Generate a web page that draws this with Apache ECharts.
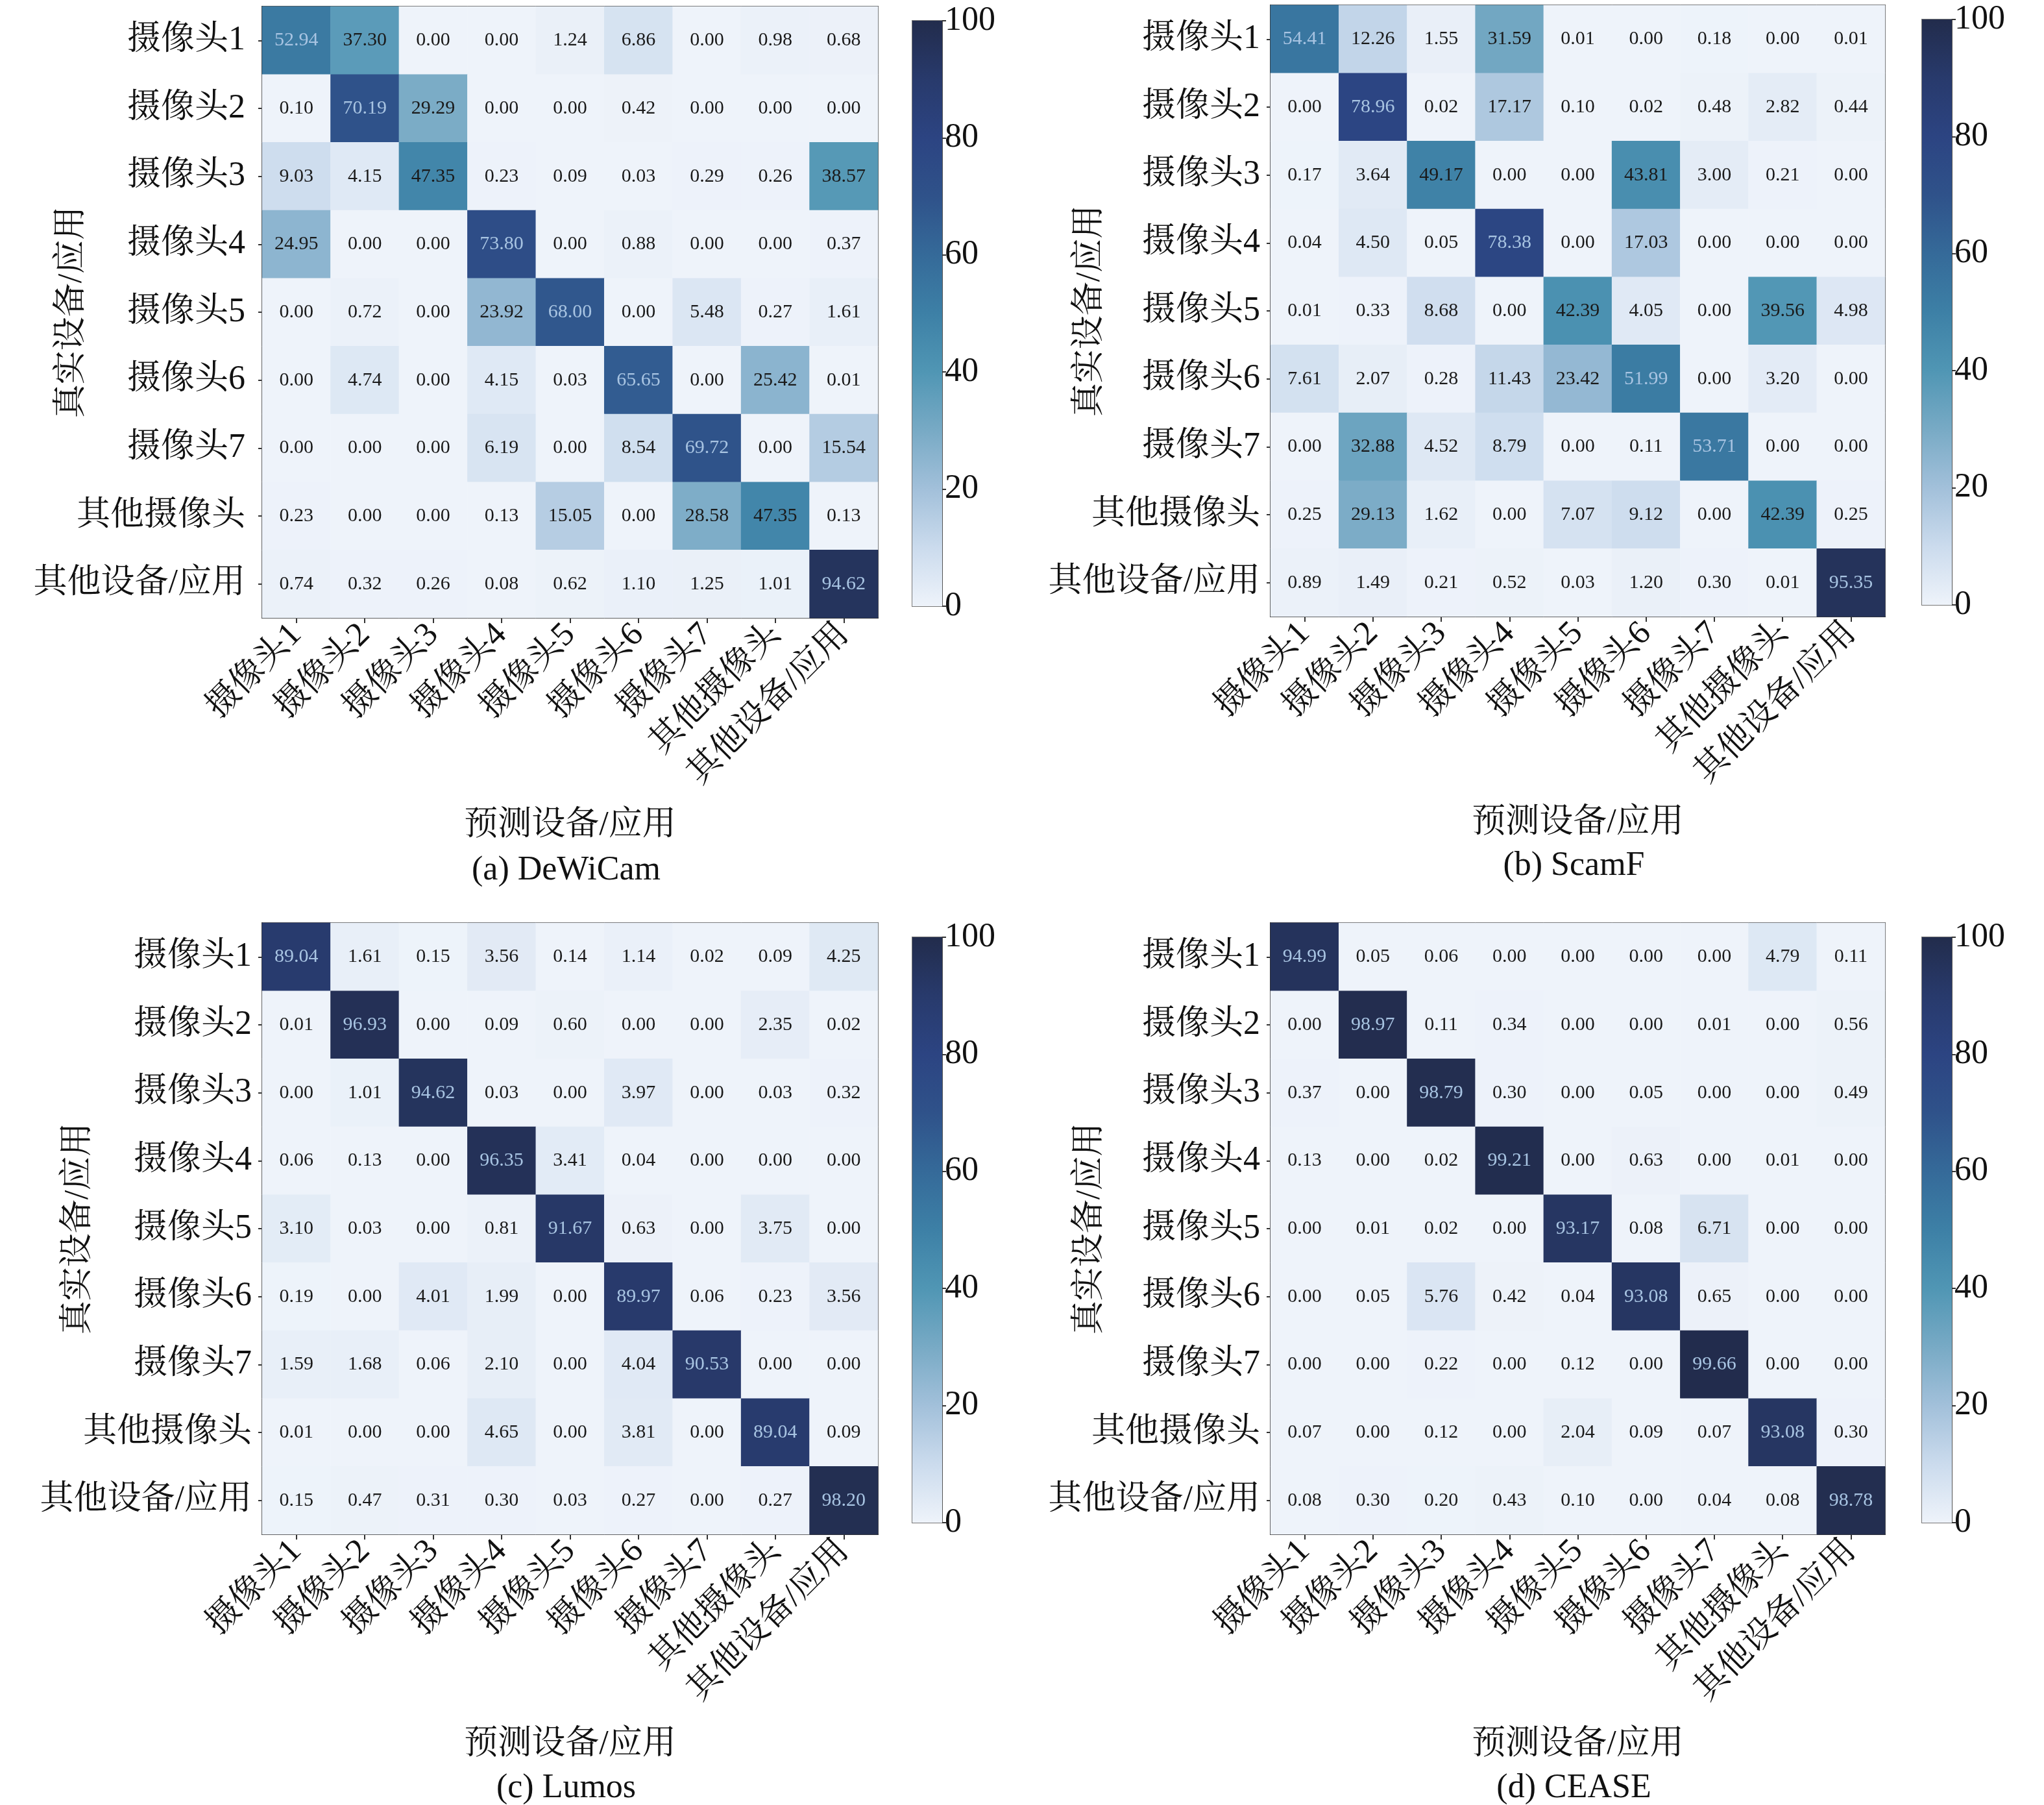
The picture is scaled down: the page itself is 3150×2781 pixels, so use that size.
<!DOCTYPE html>
<html lang="zh">
<head>
    <meta charset="UTF-8">
    <title>混淆矩阵</title>
    <script src="https://cdn.jsdelivr.net/npm/echarts@6.0.0/dist/echarts.min.js"></script>
    <style>
        html, body { margin: 0; padding: 0; background: #fff; }
        #main { width: 3150px; height: 2781px; }
    </style>
</head>
<body>
    <div id="main"></div>
    <script>
        // 类别
        const categories = ['摄像头1', '摄像头2', '摄像头3', '摄像头4', '摄像头5', '摄像头6', '摄像头7', '其他摄像头', '其他设备/应用'];
        const colorbarTicks = [0, 20, 40, 60, 80, 100];

        // (a) DeWiCam
        const matDeWiCam = [
            [52.94, 37.30, 0.00, 0.00, 1.24, 6.86, 0.00, 0.98, 0.68],
            [0.10, 70.19, 29.29, 0.00, 0.00, 0.42, 0.00, 0.00, 0.00],
            [9.03, 4.15, 47.35, 0.23, 0.09, 0.03, 0.29, 0.26, 38.57],
            [24.95, 0.00, 0.00, 73.80, 0.00, 0.88, 0.00, 0.00, 0.37],
            [0.00, 0.72, 0.00, 23.92, 68.00, 0.00, 5.48, 0.27, 1.61],
            [0.00, 4.74, 0.00, 4.15, 0.03, 65.65, 0.00, 25.42, 0.01],
            [0.00, 0.00, 0.00, 6.19, 0.00, 8.54, 69.72, 0.00, 15.54],
            [0.23, 0.00, 0.00, 0.13, 15.05, 0.00, 28.58, 47.35, 0.13],
            [0.74, 0.32, 0.26, 0.08, 0.62, 1.10, 1.25, 1.01, 94.62]
        ];
        // (b) ScamF
        const matScamF = [
            [54.41, 12.26, 1.55, 31.59, 0.01, 0.00, 0.18, 0.00, 0.01],
            [0.00, 78.96, 0.02, 17.17, 0.10, 0.02, 0.48, 2.82, 0.44],
            [0.17, 3.64, 49.17, 0.00, 0.00, 43.81, 3.00, 0.21, 0.00],
            [0.04, 4.50, 0.05, 78.38, 0.00, 17.03, 0.00, 0.00, 0.00],
            [0.01, 0.33, 8.68, 0.00, 42.39, 4.05, 0.00, 39.56, 4.98],
            [7.61, 2.07, 0.28, 11.43, 23.42, 51.99, 0.00, 3.20, 0.00],
            [0.00, 32.88, 4.52, 8.79, 0.00, 0.11, 53.71, 0.00, 0.00],
            [0.25, 29.13, 1.62, 0.00, 7.07, 9.12, 0.00, 42.39, 0.25],
            [0.89, 1.49, 0.21, 0.52, 0.03, 1.20, 0.30, 0.01, 95.35]
        ];
        // (c) Lumos
        const matLumos = [
            [89.04, 1.61, 0.15, 3.56, 0.14, 1.14, 0.02, 0.09, 4.25],
            [0.01, 96.93, 0.00, 0.09, 0.60, 0.00, 0.00, 2.35, 0.02],
            [0.00, 1.01, 94.62, 0.03, 0.00, 3.97, 0.00, 0.03, 0.32],
            [0.06, 0.13, 0.00, 96.35, 3.41, 0.04, 0.00, 0.00, 0.00],
            [3.10, 0.03, 0.00, 0.81, 91.67, 0.63, 0.00, 3.75, 0.00],
            [0.19, 0.00, 4.01, 1.99, 0.00, 89.97, 0.06, 0.23, 3.56],
            [1.59, 1.68, 0.06, 2.10, 0.00, 4.04, 90.53, 0.00, 0.00],
            [0.01, 0.00, 0.00, 4.65, 0.00, 3.81, 0.00, 89.04, 0.09],
            [0.15, 0.47, 0.31, 0.30, 0.03, 0.27, 0.00, 0.27, 98.20]
        ];
        // (d) CEASE
        const matCEASE = [
            [94.99, 0.05, 0.06, 0.00, 0.00, 0.00, 0.00, 4.79, 0.11],
            [0.00, 98.97, 0.11, 0.34, 0.00, 0.00, 0.01, 0.00, 0.56],
            [0.37, 0.00, 98.79, 0.30, 0.00, 0.05, 0.00, 0.00, 0.49],
            [0.13, 0.00, 0.02, 99.21, 0.00, 0.63, 0.00, 0.01, 0.00],
            [0.00, 0.01, 0.02, 0.00, 93.17, 0.08, 6.71, 0.00, 0.00],
            [0.00, 0.05, 5.76, 0.42, 0.04, 93.08, 0.65, 0.00, 0.00],
            [0.00, 0.00, 0.22, 0.00, 0.12, 0.00, 99.66, 0.00, 0.00],
            [0.07, 0.00, 0.12, 0.00, 2.04, 0.09, 0.07, 93.08, 0.30],
            [0.08, 0.30, 0.20, 0.43, 0.10, 0.00, 0.04, 0.08, 98.78]
        ];

        const panelTitles = ['(a) DeWiCam', '(b) ScamF', '(c) Lumos', '(d) CEASE'];
        const matrices = [matDeWiCam, matScamF, matLumos, matCEASE];

        // 色带 0 -> 100
        const cmap = ['#eef3fa', '#cbdbed', '#a2c0da', '#78aac5', '#5096b4', '#3d80a6',
                      '#356a99', '#2f528a', '#2c4482', '#283a6c', '#222c4c'];

        const FONT = "'Liberation Serif', 'Noto Serif CJK SC', 'Noto Sans CJK SC', serif";

        // 面板位置
        const panels = [
            { left: 404, top: 10, w: 949, h: 942, cbLeft: 1406, yMargin: 26, yGap: 267, xGap: 294, subY: 1341 },
            { left: 1958, top: 8, w: 947, h: 942, cbLeft: 2962, yMargin: 16, yGap: 252, xGap: 292, subY: 1334 },
            { left: 404, top: 1422, w: 949, h: 942, cbLeft: 1406, yMargin: 16, yGap: 257, xGap: 298, subY: 2755 },
            { left: 1958, top: 1422, w: 947, h: 942, cbLeft: 2962, yMargin: 16, yGap: 252, xGap: 298, subY: 2755 }
        ];

        const chart = echarts.init(document.getElementById('main'), null, { renderer: 'canvas' });

        const grids = [], xAxes = [], yAxes = [], series = [], graphics = [];

        panels.forEach((p, i) => {
            // 热力图
            grids.push({
                left: p.left, top: p.top, width: p.w, height: p.h,
                show: true, borderColor: '#555', borderWidth: 2, backgroundColor: 'transparent'
            });
            xAxes.push({
                type: 'category', gridIndex: i * 2, data: categories,
                name: '预测设备/应用', nameLocation: 'middle', nameGap: p.xGap, nameMoveOverlap: false,
                nameTextStyle: { fontSize: 52, color: '#111', fontFamily: FONT },
                axisLine: { show: true, lineStyle: { color: '#333', width: 2 } },
                axisTick: { show: true, alignWithLabel: true, length: 8, lineStyle: { color: '#333', width: 2 } },
                axisLabel: { rotate: 45, interval: 0, fontSize: 52, color: '#111', margin: 18, fontFamily: FONT },
                splitLine: { show: false }
            });
            yAxes.push({
                type: 'category', gridIndex: i * 2, data: categories, inverse: true,
                name: '真实设备/应用', nameLocation: 'middle', nameGap: p.yGap, nameMoveOverlap: false,
                nameTextStyle: { fontSize: 52, color: '#111', fontFamily: FONT },
                axisLine: { show: true, lineStyle: { color: '#333', width: 2 } },
                axisTick: { show: true, alignWithLabel: true, length: 6, lineStyle: { color: '#333', width: 2 } },
                axisLabel: { interval: 0, fontSize: 52, color: '#111', margin: p.yMargin, fontFamily: FONT },
                splitLine: { show: false }
            });
            const data = [];
            matrices[i].forEach((row, r) => {
                row.forEach((v, c) => {
                    data.push({
                        value: [c, r, v],
                        label: { color: v > 50 ? '#a8c4e2' : '#1a1a1a' }
                    });
                });
            });
            series.push({
                type: 'heatmap', xAxisIndex: i * 2, yAxisIndex: i * 2, data: data,
                label: {
                    show: true, fontSize: 30, fontFamily: FONT,
                    formatter: d => d.value[2].toFixed(2)
                },
                itemStyle: { borderWidth: 0 },
                emphasis: { disabled: true }
            });

            // 色条
            grids.push({
                left: p.cbLeft, top: p.top + 22, width: 46, height: p.h - 40,
                show: true, borderColor: '#777', borderWidth: 2, backgroundColor: 'transparent'
            });
            xAxes.push({
                type: 'category', gridIndex: i * 2 + 1, data: [''],
                axisLine: { show: false }, axisTick: { show: false }, axisLabel: { show: false }
            });
            yAxes.push({
                type: 'value', gridIndex: i * 2 + 1, position: 'right',
                min: colorbarTicks[0], max: colorbarTicks[colorbarTicks.length - 1], interval: 20,
                axisLine: { show: true, lineStyle: { color: '#555', width: 2 } },
                axisTick: { show: true, length: 6, lineStyle: { color: '#333', width: 2 } },
                axisLabel: { fontSize: 52, color: '#111', margin: 4, fontFamily: FONT },
                splitLine: { show: false }
            });
            series.push({
                type: 'bar', xAxisIndex: i * 2 + 1, yAxisIndex: i * 2 + 1,
                data: [colorbarTicks[colorbarTicks.length - 1]], barWidth: '100%', silent: true,
                itemStyle: {
                    color: new echarts.graphic.LinearGradient(0, 0, 0, 1,
                        cmap.slice().reverse().map((c, k) => ({ offset: k / (cmap.length - 1), color: c })))
                }
            });

            // 子图标题
            graphics.push({
                type: 'text', x: p.left + p.w / 2 - 6, y: p.subY,
                style: { text: panelTitles[i], fontSize: 52, fill: '#111', fontFamily: FONT, align: 'center', verticalAlign: 'middle' }
            });
        });

        chart.setOption({
            backgroundColor: '#fff',
            animation: false,
            grid: grids,
            xAxis: xAxes,
            yAxis: yAxes,
            visualMap: {
                show: false, type: 'continuous', min: 0, max: 100,
                seriesIndex: [0, 2, 4, 6],
                inRange: { color: cmap }
            },
            series: series,
            graphic: graphics
        });
    </script>
</body>
</html>
